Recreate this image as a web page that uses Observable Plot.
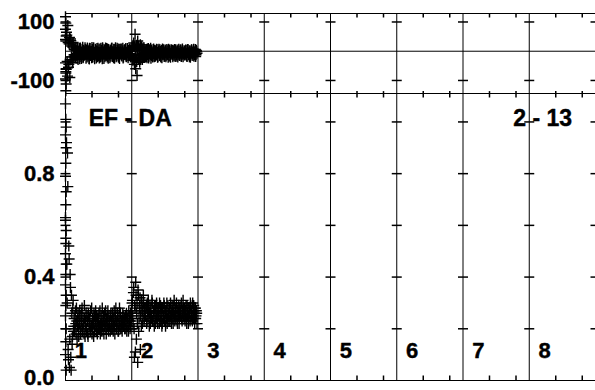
<!DOCTYPE html>
<html>
<head>
<meta charset="utf-8">
<script src="https://cdn.jsdelivr.net/npm/d3@7"></script>
<script src="https://cdn.jsdelivr.net/npm/@observablehq/plot@0.6"></script>
<style>
  html, body { margin: 0; padding: 0; background: #fff; }
  #chart { position: relative; width: 595px; height: 390px; overflow: hidden; background: #fff; }
  #chart svg { position: absolute; left: 0; }
</style>
</head>
<body>
<div id="chart"></div>
<script>
// ---------- data ----------
const sampleStep = 0.01;              // x spacing of the samples (series B sits half a step later)
const columnLabels = ["1", "2", "3", "4", "5", "6", "7", "8"];
const gridX = [1, 2, 3, 4, 5, 6, 7];
const tickX = [1, 2, 3, 4, 5, 6, 7, 8];
const minorX = [0.4, 0.8, 1.4, 1.8, 2.4, 2.8, 3.4, 3.8, 4.4, 4.8, 5.4, 5.8, 6.4, 6.8, 7.4, 7.8];
const topTickValues = [100, -100];
const bottomTickValues = [0.2, 0.4, 0.6, 0.8, 1.0];
const bottomLabelValues = [0.4, 0.8];
const bottomLabelTexts = ["0.4", "0.8"];
const zeroLabel = "0.0";
const panelTitle = "EF - DA";
const panelTag = "2 - 13";

// top panel (difference) samples
const diffValues = [
  40,-60,55,-85,30,-45,47,-30,36,-20,25,-38,15,
  -12,8,-22,3,-15,12,-28,-2,10,-18,5,-25,-8,14,-20,0,-10,
  6,-24,-4,11,-16,2,-27,9,-12,-1,13,-21,4,-9,-26,7,-14,1,-19,10,
  -6,-23,8,-11,3,-17,12,-3,-25,5,-8,-15,9,-20,-1,6,-13,-22,2,-7,
  11,-18,-4,7,-24,-9,4,-14,10,-2,-21,6,-11,-5,8,-16,1,-23,-6,5,
  -12,9,-19,-3,4,-15,-8,7,-20,0,
  -10,15,-30,28,-45,58,-60,20,-83,35,-25,10,-38,22,-15,5,-28,12,-8,-20,3,
  -14,6,-22,-2,9,-17,1,-11,-24,4,-7,-16,8,-19,-3,2,-13,6,-21,-5,
  7,-15,-1,-20,3,-9,-12,5,-18,-4,1,-14,6,-10,-21,-2,4,-16,-7,3,
  -11,-19,2,-6,-14,5,-17,-3,0,-12,7,-15,-8,-1,-18,4,-10,-5,2,-13,
  -7,3,-16,-2,5,-11,-19,0,-6,4,-14,-9,2,-17,-4,6,-12,-1
];
const diffValuesB = [
  -70,65,-35,88,-55,25,-90,42,-28,18,-40,30,-18,
  5,-19,13,-7,-24,9,-13,2,-26,11,-5,-17,7,-22,3,-14,12,
  -9,4,-20,8,-3,-25,10,-15,0,-22,6,-11,12,-18,-6,3,-23,9,-2,-16,
  5,-12,-20,10,-4,-26,7,-9,1,-19,11,-14,-3,8,-24,0,-8,4,-17,9,
  -13,-1,-22,6,-10,12,-19,-5,3,-16,8,-25,-2,7,-14,-7,10,-20,2,-11,
  6,-17,-5,9,-22,1,-13,4,-9,-15,
  12,-30,20,-25,15,-20,10,-35,8,-22,18,-12,6,-28,15,-22,8,-18,12,-5,-20,
  2,-18,8,-11,-23,5,-6,10,-15,-2,-20,6,-9,3,-17,-12,7,-4,-19,1,
  -8,5,-17,-3,-22,8,-10,0,-14,4,-19,-6,2,-12,7,-16,-1,-21,5,-9,
  3,-14,-6,6,-18,-2,-11,4,-20,-7,1,-13,5,-16,-4,8,-19,-9,0,-12,
  4,-10,-18,6,-5,-13,2,-21,-8,5,-3,-15,7,-11,-1,-18,3,-7
];
const diffStartX = [0,0.005,0,0.01,0.005,0,0.01,0.005,0,0.01,0.005];
const diffStartY = [118,96,75,52,35,-40,-62,-75,-95,-112,-135];

// bottom panel (ratio) samples
const ratioValues = [
  0.62,0.98,0.45,0.88,0.12,0.52,0.05,0.41,0.09,0.33,0.14,0.28,0.19,
  0.24,0.20,0.27,0.18,0.23,0.21,0.26,0.17,0.22,0.25,0.19,0.23,0.28,0.20,0.22,0.18,0.24,
  0.21,0.26,0.19,0.23,0.17,0.25,0.22,0.20,0.27,0.21,0.18,0.24,0.22,0.26,0.19,0.23,0.21,0.25,0.18,0.22,
  0.24,0.20,0.27,0.22,0.19,0.25,0.21,0.23,0.18,0.26,0.22,0.20,0.24,0.21,0.27,0.19,0.23,0.22,0.25,0.20,
  0.22,0.26,0.19,0.24,0.21,0.23,0.28,0.20,0.22,0.25,0.19,0.24,0.21,0.26,0.20,0.23,0.22,0.25,0.21,0.24,
  0.20,0.23,0.26,0.21,0.24,0.19,0.22,0.25,0.21,0.23,
  0.27,0.31,0.22,0.36,0.09,0.28,0.38,0.16,0.30,0.07,0.33,0.24,0.29,0.12,0.27,0.31,0.22,0.26,0.30,0.24,0.28,
  0.25,0.29,0.23,0.27,0.31,0.24,0.26,0.22,0.28,0.25,0.30,0.23,0.27,0.21,0.26,0.29,0.24,0.27,0.22,0.28,
  0.25,0.30,0.23,0.26,0.28,0.22,0.27,0.24,0.29,0.25,0.21,0.27,0.30,0.24,0.26,0.23,0.28,0.25,0.27,0.22,
  0.29,0.24,0.26,0.31,0.23,0.27,0.25,0.28,0.22,0.26,0.29,0.24,0.27,0.25,0.30,0.23,0.26,0.28,0.24,0.27,
  0.25,0.29,0.22,0.26,0.28,0.24,0.27,0.23,0.29,0.25,0.26,0.30,0.24,0.27,0.22,0.28,0.25,0.26
];
const ratioValuesB = [
  0.55,0.92,0.30,0.75,0.08,0.47,0.16,0.36,0.04,0.26,0.17,0.31,0.21,
  0.19,0.25,0.22,0.28,0.16,0.24,0.20,0.23,0.27,0.18,0.21,0.26,0.19,0.24,0.22,0.29,0.17,
  0.23,0.20,0.25,0.18,0.26,0.21,0.24,0.19,0.22,0.28,0.20,0.23,0.17,0.25,0.21,0.27,0.19,0.22,0.24,0.20,
  0.26,0.21,0.18,0.24,0.22,0.28,0.19,0.25,0.21,0.23,0.27,0.18,0.22,0.25,0.20,0.24,0.21,0.19,0.26,0.23,
  0.20,0.24,0.22,0.27,0.18,0.25,0.21,0.23,0.26,0.19,0.22,0.28,0.20,0.24,0.22,0.19,0.26,0.21,0.23,0.20,
  0.25,0.22,0.19,0.24,0.21,0.27,0.23,0.20,0.26,0.24,
  0.30,0.25,0.34,0.20,0.29,0.11,0.33,0.26,0.22,0.35,0.19,0.28,0.32,0.25,0.21,0.29,0.27,0.33,0.23,0.28,0.25,
  0.28,0.22,0.30,0.25,0.27,0.21,0.29,0.26,0.24,0.31,0.23,0.27,0.25,0.29,0.22,0.26,0.30,0.24,0.28,0.25,
  0.22,0.27,0.29,0.24,0.21,0.28,0.25,0.30,0.23,0.27,0.26,0.24,0.22,0.29,0.25,0.27,0.23,0.30,0.24,0.26,
  0.27,0.22,0.29,0.25,0.28,0.24,0.30,0.23,0.27,0.25,0.22,0.28,0.26,0.29,0.24,0.27,0.31,0.25,0.28,0.23,
  0.27,0.24,0.29,0.25,0.22,0.28,0.26,0.30,0.24,0.27,0.23,0.25,0.29,0.26,0.28,0.24,0.27,0.22
];
const ratioStartX = [0,0.005,0,0.01,0.005,0,0.01,0.005,0,0.01,0.005,0,0.01,0.005,0,0.01,0.005,0,0.01,0.005,0,0.01];
const ratioStartY = [1.07,1.01,0.95,0.9,0.84,0.79,0.73,0.68,0.63,0.58,0.53,0.49,0.45,0.41,0.37,0.33,0.29,0.25,0.2,0.15,0.1,0.04];

// ---------- build ----------
const toPoints = (vals, offset) => vals.map((v, i) => ({x: i * sampleStep + offset, y: v}));
const diffData = toPoints(diffValues, 0)
  .concat(toPoints(diffValuesB, sampleStep / 2))
  .concat(diffStartX.map((x, i) => ({x, y: diffStartY[i]})));
const ratioData = toPoints(ratioValues, 0)
  .concat(toPoints(ratioValuesB, sampleStep / 2))
  .concat(ratioStartX.map((x, i) => ({x, y: ratioStartY[i]})));

// custom symbols (size = r*r*PI)
const rad = s => Math.sqrt(s / Math.PI);
const plusSym = {draw(c, s) { const r = rad(s); c.moveTo(-r, 0); c.lineTo(r, 0); c.moveTo(0, -r); c.lineTo(0, r); }};
const hSym = {draw(c, s) { const r = rad(s); c.moveTo(-r, 0); c.lineTo(r, 0); }};
const downSym = {draw(c, s) { const r = rad(s); c.moveTo(0, 0); c.lineTo(0, r); }};
const upSym = {draw(c, s) { const r = rad(s); c.moveTo(0, 0); c.lineTo(0, -r); }};
const bothSym = {draw(c, s) { const r = rad(s); c.moveTo(0, -r * 0.6); c.lineTo(0, r); }};

const font = "'Liberation Sans', Arial, Helvetica, sans-serif";
const txt = {fontSize: 22, fontWeight: "bold", fill: "#000", stroke: "#000", strokeWidth: 0.4};
const W = 595;
const xDomain = [0, 8];
const dataStyle = {symbol: plusSym, r: 5.5, fill: "none", stroke: "#000", strokeWidth: 1.4};

const topPanel = Plot.plot({
  width: W, height: 100,
  marginTop: 13, marginBottom: 6, marginLeft: 65, marginRight: 0,
  x: {domain: xDomain, axis: null},
  y: {domain: [-148, 129], axis: null},
  style: {fontFamily: font, background: "transparent", overflow: "visible"},
  marks: [
    Plot.ruleX(gridX, {stroke: "#000", strokeWidth: 1}),
    Plot.ruleX([0], {stroke: "#000", strokeWidth: 1}),
    Plot.ruleY([129], {stroke: "#000"}),
    Plot.ruleY([0], {stroke: "#000"}),
    Plot.dot(minorX, {x: d => d, y: 129, symbol: downSym, r: 4, fill: "none", stroke: "#000"}),
    Plot.dot(tickX.flatMap(x => topTickValues.map(y => ({x, y}))), {x: "x", y: "y", symbol: hSym, r: 5, fill: "none", stroke: "#000"}),
    Plot.dot(topTickValues, {x: 0, y: d => d, symbol: hSym, r: 5, fill: "none", stroke: "#000"}),
    Plot.dot(diffData, {x: "x", y: "y", ...dataStyle}),
    Plot.text(topTickValues, {x: 0, y: d => d, text: d => String(d), textAnchor: "end", dx: -11, ...txt})
  ]
});
topPanel.style.top = "0px";

const bottomPanel = Plot.plot({
  width: W, height: 302,
  marginTop: 6, marginBottom: 9, marginLeft: 65, marginRight: 0,
  x: {domain: xDomain, axis: null},
  y: {domain: [0, 1.11], axis: null},
  style: {fontFamily: font, background: "transparent", overflow: "visible"},
  marks: [
    Plot.ruleX(gridX, {stroke: "#000", strokeWidth: 1}),
    Plot.ruleX([0], {stroke: "#000", strokeWidth: 1}),
    Plot.ruleY([1.11], {stroke: "#000"}),
    Plot.ruleY([0], {stroke: "#000"}),
    Plot.dot(minorX, {x: d => d, y: 1.11, symbol: bothSym, r: 4, fill: "none", stroke: "#000"}),
    Plot.dot(minorX, {x: d => d, y: 0, symbol: upSym, r: 5, fill: "none", stroke: "#000"}),
    Plot.dot(tickX.flatMap(x => bottomTickValues.map(y => ({x, y}))), {x: "x", y: "y", symbol: hSym, r: 5, fill: "none", stroke: "#000"}),
    Plot.dot(bottomTickValues, {x: 0, y: d => d, symbol: hSym, r: 5, fill: "none", stroke: "#000"}),
    Plot.dot(ratioData, {x: "x", y: "y", ...dataStyle}),
    Plot.text(bottomLabelValues, {x: 0, y: d => d, text: (d, i) => bottomLabelTexts[i], textAnchor: "end", dx: -11, ...txt}),
    Plot.text([zeroLabel], {x: 0, y: 0, text: d => d, textAnchor: "end", dx: -11, dy: -3, ...txt}),
    Plot.text(columnLabels, {x: (d, i) => i + 0.14, y: 0.113, text: d => d, textAnchor: "start", ...txt}),
    Plot.text([panelTitle], {x: 0.35, y: 1.013, text: d => d, textAnchor: "start", ...txt, fontSize: 23}),
    Plot.text([panelTag], {x: 6.76, y: 1.013, text: d => d, textAnchor: "start", ...txt, fontSize: 23})
  ]
});
bottomPanel.style.top = "87px";

const chart = document.getElementById("chart");
chart.appendChild(bottomPanel);
chart.appendChild(topPanel);
</script>
</body>
</html>
